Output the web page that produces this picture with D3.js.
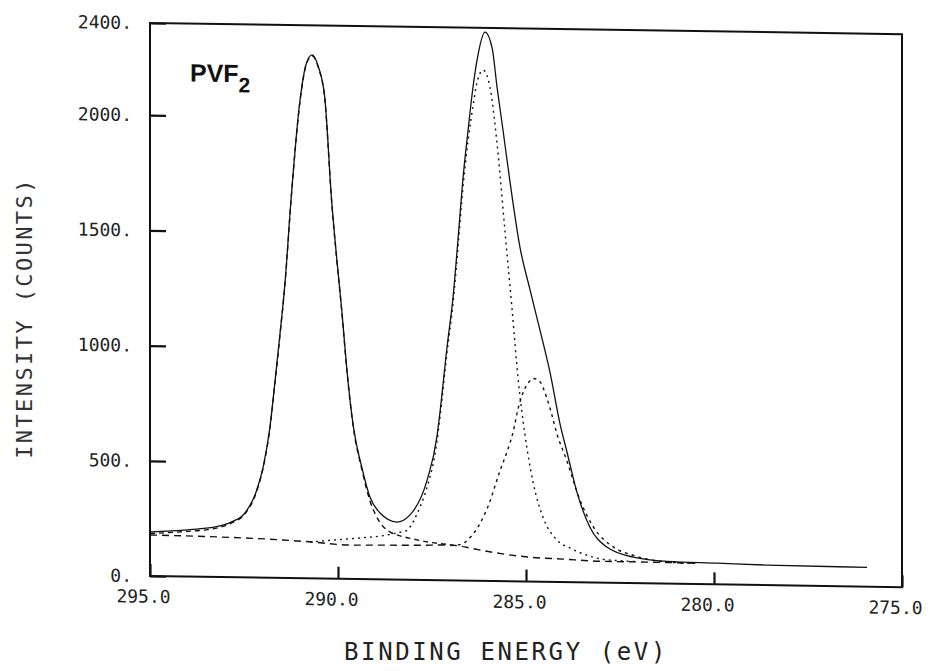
<!DOCTYPE html>
<html>
<head>
<meta charset="utf-8">
<script src="https://cdn.jsdelivr.net/npm/d3@7"></script>
<style>
  body { margin: 0; background: #fff; }
  svg { display: block; }
</style>
</head>
<body>
<div id="chart"></div>
<script>
// binding energy (eV), intensity (counts)
const envelope = [
  [295.0, 191], [294.0, 203], [293.5, 211], [293.2, 220], [292.9, 235], [292.7, 250],
  [292.55, 266], [292.47, 281], [292.16, 380], [291.99, 481], [291.81, 654], [291.68, 845],
  [291.54, 1063], [291.41, 1280], [291.25, 1641], [291.01, 2075], [290.85, 2230], [290.69, 2272],
  [290.52, 2220], [290.35, 2085], [290.17, 1643], [290.03, 1384], [289.9, 1167], [289.77, 920],
  [289.59, 660], [289.37, 487], [289.15, 357], [288.88, 288], [288.44, 250], [288.09, 281],
  [287.63, 434], [287.37, 622], [287.29, 726], [287.1, 1013], [286.94, 1230], [286.81, 1477],
  [286.68, 1739], [286.54, 1956], [286.41, 2142], [286.28, 2280], [286.09, 2382], [285.9, 2313],
  [285.77, 2144], [285.61, 1956], [285.43, 1739], [285.16, 1450], [284.89, 1265], [284.63, 1093],
  [284.36, 908], [284.1, 690], [283.91, 565], [283.64, 388], [283.3, 240], [282.85, 155],
  [282.15, 113], [281.25, 97], [279.92, 92], [278.59, 87], [275.93, 84]
];

const peak1 = [
  [295.0, 184], [294.0, 196], [293.5, 204], [293.2, 213], [292.9, 230], [292.7, 246],
  [292.55, 262], [292.47, 277], [292.16, 376], [291.99, 477], [291.81, 650], [291.68, 841],
  [291.54, 1059], [291.41, 1276], [291.25, 1637], [291.01, 2070], [290.85, 2226], [290.69, 2268],
  [290.52, 2216], [290.35, 2080], [290.17, 1638], [290.03, 1379], [289.9, 1162], [289.77, 915],
  [289.59, 655], [289.37, 480], [289.15, 340], [289.0, 280], [288.8, 230], [288.6, 205],
  [288.43, 194], [288.1, 181], [287.5, 163], [287.0, 155]
];

const peak2 = [
  [290.74, 158], [290.03, 169], [289.34, 180], [288.8, 190], [288.43, 203], [288.16, 215],
  [288.09, 229], [287.82, 316], [287.63, 404], [287.37, 600], [287.29, 705], [287.1, 990],
  [286.94, 1205], [286.81, 1445], [286.68, 1700], [286.54, 1910], [286.41, 2060], [286.3, 2165],
  [286.14, 2217], [285.96, 2144], [285.74, 1850], [285.56, 1520], [285.37, 1180], [285.21, 880],
  [285.03, 640], [284.81, 430], [284.55, 281], [284.18, 183], [283.83, 149], [283.5, 125],
  [282.85, 100], [282.0, 94]
];

const peak3 = [
  [287.0, 152], [286.76, 156], [286.5, 185], [286.31, 225], [286.1, 290], [285.96, 345],
  [285.87, 390], [285.69, 480], [285.51, 560], [285.34, 650], [285.21, 750], [285.05, 830],
  [284.93, 865], [284.81, 882], [284.65, 872], [284.45, 800], [284.32, 730], [284.19, 650],
  [283.92, 530], [283.56, 356], [283.21, 242], [282.68, 156], [282.15, 121], [281.26, 94],
  [280.6, 90]
];

const background = [
  [295.0, 178], [293.22, 174], [291.46, 165], [290.7, 158], [289.68, 147], [288.8, 149],
  [287.8, 151], [287.02, 154], [286.76, 150], [286.49, 142], [285.77, 122], [284.89, 106],
  [284.02, 100], [283.03, 93], [281.25, 92], [280.5, 90]
];

const xTicks = [295, 290, 285, 280, 275];
const yTicks = [0, 500, 1000, 1500, 2000, 2400];

const margin = { top: 23, left: 150 },
    width = 752,
    height = 553;

const svg = d3.select("#chart")
    .append("svg")
    .attr("width", 931)
    .attr("height", 671);

// the scanned plot is slightly tilted
const g = svg.append("g")
    .attr("transform", `translate(${margin.left},${margin.top}) skewY(0.85)`);

const x = d3.scaleLinear().domain([295, 275]).range([0, width]);
const y = d3.scaleLinear().domain([0, 2400]).range([height, 0]);

const tickFont = "'DejaVu Sans Mono', monospace";

// Y axis
const yAxis = g.append("g")
    .call(d3.axisLeft(y)
        .tickValues(yTicks)
        .tickSize(-16)
        .tickSizeOuter(0)
        .tickPadding(18)
        .tickFormat(d => d + "."));
yAxis.select(".domain").remove();
yAxis.selectAll("line").attr("stroke", "#111").attr("stroke-width", 2.2);
yAxis.selectAll("text")
    .style("font-family", tickFont)
    .style("font-size", "18px")
    .attr("fill", "#222");

// X axis
const xAxis = g.append("g")
    .attr("transform", `translate(0,${height})`)
    .call(d3.axisBottom(x)
        .tickValues(xTicks)
        .tickSize(-12)
        .tickSizeOuter(0)
        .tickPadding(14)
        .tickFormat(d => d.toFixed(1)));
xAxis.select(".domain").remove();
xAxis.selectAll("line").attr("stroke", "#111").attr("stroke-width", 2.2);
xAxis.selectAll("text")
    .attr("dx", -7)
    .style("font-family", tickFont)
    .style("font-size", "18px")
    .attr("fill", "#222");

// frame
g.append("rect")
    .attr("x", 0)
    .attr("y", 0)
    .attr("width", width)
    .attr("height", height)
    .attr("fill", "none")
    .attr("stroke", "#111")
    .attr("stroke-width", 2);

const line = d3.line()
    .x(d => x(d[0]))
    .y(d => y(d[1]))
    .curve(d3.curveMonotoneX);

const series = [
  { data: background, dash: "7,5" },
  { data: peak1, dash: "5,4" },
  { data: peak2, dash: "2,4" },
  { data: peak3, dash: "3,4" },
  { data: envelope, dash: null }
];

series.forEach(s => {
  g.append("path")
      .datum(s.data)
      .attr("fill", "none")
      .attr("stroke", "#111")
      .attr("stroke-width", s.dash ? 1.4 : 1.3)
      .attr("stroke-dasharray", s.dash)
      .attr("d", line);
});

// sample label
const label = g.append("text")
    .attr("x", 40)
    .attr("y", 58)
    .style("font-family", "'Liberation Sans', Arial, sans-serif")
    .style("font-size", "25px")
    .style("font-weight", "bold")
    .attr("fill", "#111")
    .text("PVF");
label.append("tspan")
    .attr("dy", 10)
    .style("font-size", "21px")
    .text("2");

// X axis label
svg.append("text")
    .attr("text-anchor", "middle")
    .attr("x", 506)
    .attr("y", 660)
    .style("font-family", tickFont)
    .style("font-size", "24px")
    .style("letter-spacing", "2.6px")
    .attr("fill", "#222")
    .text("BINDING ENERGY (eV)");

// Y axis label
svg.append("text")
    .attr("text-anchor", "middle")
    .attr("transform", "translate(32,318) rotate(-90)")
    .style("font-family", tickFont)
    .style("font-size", "22px")
    .style("letter-spacing", "2.4px")
    .attr("fill", "#333")
    .text("INTENSITY (COUNTS)");
</script>
</body>
</html>
